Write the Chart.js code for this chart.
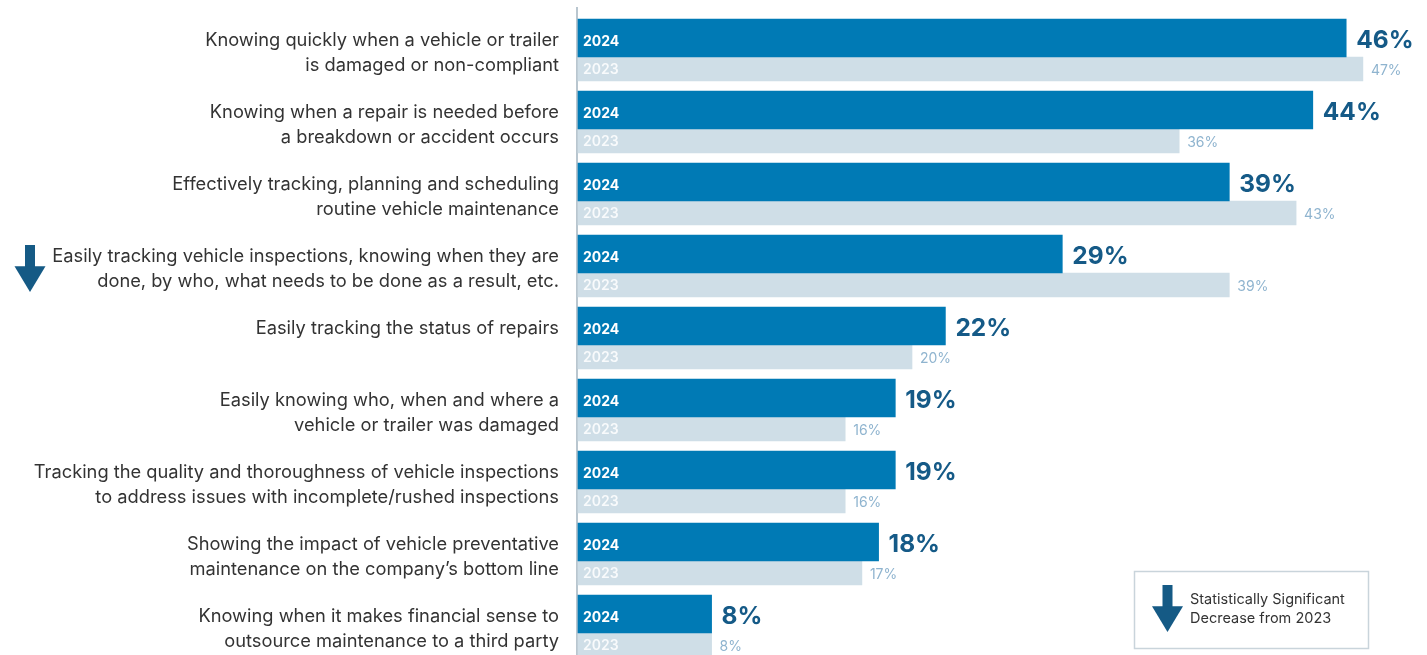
<!DOCTYPE html>
<html>
<head>
<meta charset="utf-8">
<script src="https://cdn.jsdelivr.net/npm/chart.js@4.4.1/dist/chart.umd.min.js"></script>
<style>
  html, body { margin: 0; padding: 0; background: #fff; overflow: hidden; }
  #wrap { width: 1427px; height: 655px; overflow: hidden; }
</style>
</head>
<body>
<div id="wrap"><canvas id="myCan" width="1427" height="690"></canvas></div>
<script>
// data
var categories = [
  ["Knowing quickly when a vehicle or trailer", "is damaged or non-compliant"],
  ["Knowing when a repair is needed before", "a breakdown or accident occurs"],
  ["Effectively tracking, planning and scheduling", "routine vehicle maintenance"],
  ["Easily tracking vehicle inspections, knowing when they are", "done, by who, what needs to be done as a result, etc."],
  ["Easily tracking the status of repairs", ""],
  ["Easily knowing who, when and where a", "vehicle or trailer was damaged"],
  ["Tracking the quality and thoroughness of vehicle inspections", "to address issues with incomplete/rushed inspections"],
  ["Showing the impact of vehicle preventative", "maintenance on the company\u2019s bottom line"],
  ["Knowing when it makes financial sense to", "outsource maintenance to a third party"]
];
var values2024 = [46, 44, 39, 29, 22, 19, 19, 18, 8];
var values2023 = [47, 36, 43, 39, 20, 16, 16, 17, 8];
var sigDecrease = [false, false, false, true, false, false, false, false, false];
var seriesNames = ["2024", "2023"];
var legendText = ["Statistically Significant", "Decrease from 2023"];

var FONT = "Inter, 'Noto Sans', sans-serif";
var dark = '#007ab5', light = '#cfdee7', arrowCol = '#155a85';

function drawArrow(ctx, cx, top, bottom) {
  ctx.fillStyle = arrowCol;
  ctx.fillRect(cx - 5, top, 10, (bottom - top) * 0.45 + 1);
  ctx.beginPath();
  ctx.moveTo(cx - 15.5, top + (bottom - top) * 0.45);
  ctx.lineTo(cx + 15.5, top + (bottom - top) * 0.45);
  ctx.lineTo(cx, bottom);
  ctx.closePath();
  ctx.fill();
}

var extras = {
  id: 'extras',
  beforeDatasetsDraw: function(chart) {
    var ctx = chart.ctx;
    ctx.save();
    ctx.fillStyle = '#b9c6cf';
    ctx.fillRect(chart.chartArea.left - 2, 7, 2, chart.height);
    ctx.restore();
  },
  afterDatasetsDraw: function(chart) {
    var ctx = chart.ctx;
    ctx.save();
    ctx.textBaseline = 'middle';
    var m24 = chart.getDatasetMeta(0).data;
    var m23 = chart.getDatasetMeta(1).data;
    m24.forEach(function(bar, i) {
      ctx.textAlign = 'left';
      ctx.fillStyle = '#ffffff';
      ctx.font = 'bold 14px ' + FONT;
      ctx.fillText(seriesNames[0], bar.base + 5, bar.y + 4);
      ctx.fillStyle = '#155a87';
      ctx.font = 'bold 24.5px ' + FONT;
      ctx.fillText(values2024[i] + '%', bar.x + 10, bar.y + 3);
    });
    m23.forEach(function(bar, i) {
      ctx.textAlign = 'left';
      ctx.fillStyle = 'rgba(255,255,255,0.85)';
      ctx.font = '600 14px ' + FONT;
      ctx.fillText(seriesNames[1], bar.base + 5, bar.y + 1);
      ctx.fillStyle = '#8fb4cf';
      ctx.font = '14px ' + FONT;
      ctx.fillText(values2023[i] + '%', bar.x + 8, bar.y + 2);
    });
    // significance arrows next to labels
    sigDecrease.forEach(function(s, i) {
      if (!s) return;
      var y = chart.scales.y.getPixelForValue(i);
      drawArrow(ctx, 30, y - 28, y + 19);
    });
    // legend box
    ctx.strokeStyle = '#c9d4db';
    ctx.lineWidth = 1.5;
    ctx.strokeRect(1134.5, 571.5, 234, 77);
    drawArrow(ctx, 1167.5, 585, 632);
    ctx.fillStyle = '#333333';
    ctx.font = '14.5px ' + FONT;
    ctx.textAlign = 'left';
    ctx.fillText(legendText[0], 1190, 600);
    ctx.fillText(legendText[1], 1190, 619);
    ctx.restore();
  }
};

var cfg = {
  type: 'bar',
  data: {
    labels: categories,
    datasets: [
      { label: seriesNames[0], data: values2024, backgroundColor: dark, barThickness: 38, clip: false },
      { label: seriesNames[1], data: values2023, backgroundColor: light, barThickness: 24, clip: false }
    ]
  },
  options: {
    indexAxis: 'y',
    responsive: false,
    animation: false,
    layout: { padding: { top: 21, bottom: 21, right: 14, left: 0 } },
    plugins: { legend: { display: false }, tooltip: { enabled: false } },
    scales: {
      x: { display: false, min: 0, max: 50 },
      y: {
        grid: { display: false },
        border: { display: false },
        afterFit: function(scale) {
          scale.width = 578;
          scale.paddingTop = 0;
          scale.paddingBottom = 0;
        },
        ticks: {
          color: '#333333',
          padding: 11,
          labelOffset: -4,
          crossAlign: 'near',
          autoSkip: false,
          font: { family: FONT, size: 18.3, lineHeight: 1.37 }
        }
      }
    }
  },
  plugins: [extras]
};

var ctxx = document.getElementById('myCan').getContext('2d');
var xChart = new Chart(ctxx, cfg);
</script>
</body>
</html>
